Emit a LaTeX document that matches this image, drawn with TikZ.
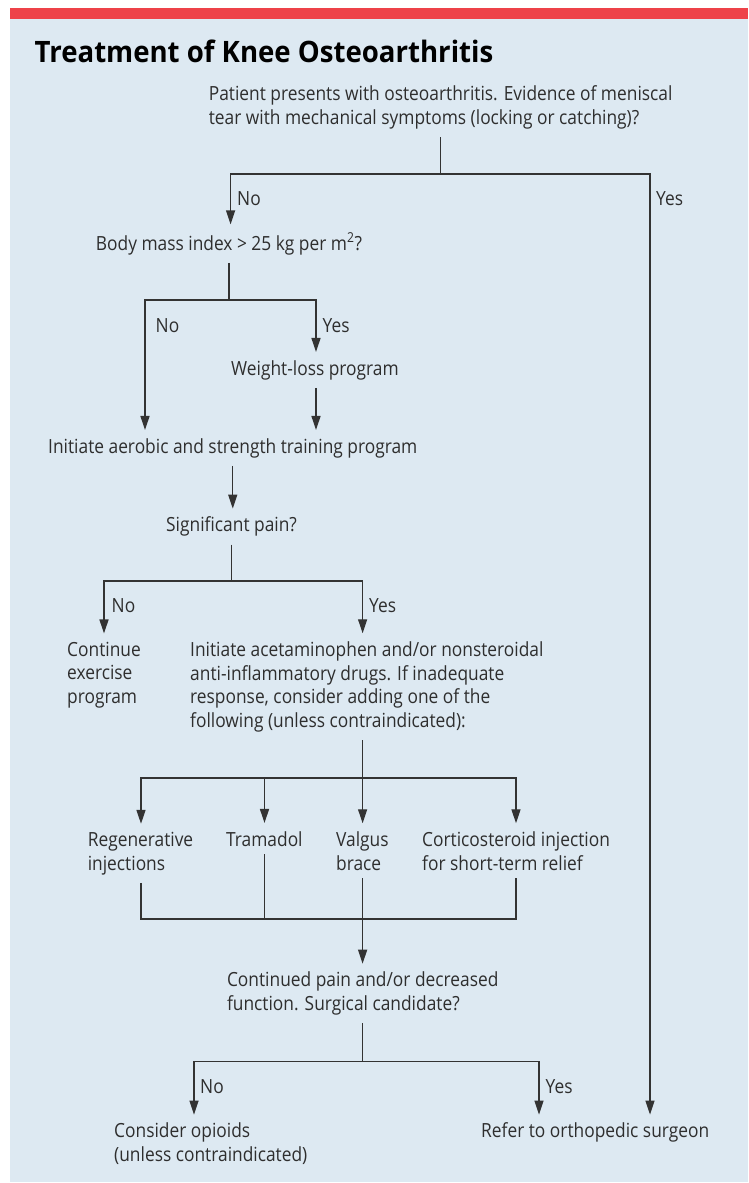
\documentclass[tikz,border=0pt]{standalone}
\usepackage{fontspec}
\setmainfont{Open Sans}[FakeStretch=0.89]
\newfontfamily\titlefont{Open Sans}[FakeStretch=0.935]
\usetikzlibrary{arrows.meta}
\definecolor{panelblue}{HTML}{DDE9F2}
\definecolor{barred}{HTML}{EE4249}
\definecolor{inkgray}{HTML}{2E2E2E}
\definecolor{linegray}{HTML}{333333}

\begin{document}
\begin{tikzpicture}[x=1pt,y=-1pt]
\tikzstyle{txt}=[inner xsep=0pt, inner ysep=8pt, anchor=base west, align=left, text=inkgray, font=\fontsize{19.5}{23.7}\selectfont]
\tikzstyle{lbl}=[inner sep=0pt, anchor=base west, text=inkgray, font=\fontsize{19.5}{23.7}\selectfont]
\tikzstyle{ln}=[draw=linegray, line width=1.3pt]
\tikzstyle{arr}=[ln, -{Triangle[length=14pt,width=9pt]}]

\useasboundingbox (0,0) rectangle (748,1183);
\fill[white] (0,0) rectangle (748,1183);
\fill[panelblue] (10,19) rectangle (748,1182);
\fill[barred] (10,8) rectangle (748,19);

\node[lbl, font=\titlefont\fontsize{29.5}{34}\selectfont\bfseries, text=black] (title) at (34.5,62) {Treatment of Knee Osteoarthritis};

\node[txt] (patient) at (208.6,124.4) {Patient presents with osteoarthritis. Evidence of meniscal\\tear with mechanical symptoms (locking or catching)?};
\node[txt] (bmi) at (95.7,250) {Body mass index > 25 kg per m\textsuperscript{2}?};
\node[txt] (wloss) at (231,375) {Weight-loss program};
\node[txt] (aerobic) at (48,453) {Initiate aerobic and strength training program};
\node[txt] (pain) at (166,531.7) {Significant pain?};
\node[txt] (cont) at (67,703.4) {Continue\\exercise\\program};
\node[txt] (nsaid) at (190,727.4) {Initiate acetaminophen and/or nonsteroidal\\anti-inflammatory drugs. If inadequate\\response, consider adding one of the\\following (unless contraindicated):};
\node[txt] (regen) at (87.6,870) {Regenerative\\injections};
\node[txt] (tram) at (226,846) {Tramadol};
\node[txt] (valgus) at (336,870) {Valgus\\brace};
\node[txt] (cortico) at (422,870) {Corticosteroid injection\\for short-term relief};
\node[txt] (surg) at (226.8,1010.4) {Continued pain and/or decreased\\function. Surgical candidate?};
\node[txt] (opioid) at (114,1161.4) {Consider opioids\\(unless contraindicated)};
\node[txt] (refer) at (481,1137.7) {Refer to orthopedic surgeon};

\node[lbl] (no1) at (237,205) {No};
\node[lbl] (yes1) at (656,205) {Yes};
\node[lbl] (no2) at (155.5,332) {No};
\node[lbl] (yes2) at (322.5,332) {Yes};
\node[lbl] (no3) at (111.5,612) {No};
\node[lbl] (yes3) at (369,612) {Yes};
\node[lbl] (no4) at (200,1093) {No};
\node[lbl] (yes4) at (545.5,1093) {Yes};

\coordinate (nL) at (230.6,174);
\coordinate (nR) at (650,174);
\coordinate (bL) at (145,300);
\coordinate (bR) at (316,300);
\coordinate (pL) at (104,581);
\coordinate (pR) at (362.6,581);
\coordinate (fL) at (141,778);
\coordinate (fM) at (264.5,778);
\coordinate (fR) at (516,778);
\coordinate (gL) at (141,919);
\coordinate (gR) at (516,919);
\coordinate (sL) at (194,1061.7);
\coordinate (sR) at (539,1061.7);

\draw[ln] (patient.south) -- (patient.south |- nL);
\draw[arr] (patient.south |- nL) -- (nL) -- (nL |- bmi.north);
\draw[arr] (patient.south |- nL) -- (nR) -- (nR |- refer.north);

\draw[ln] (bmi.south) -- (bmi.south |- bL);
\draw[arr] (bmi.south |- bL) -- (bL) -- (bL |- aerobic.north);
\draw[arr] (bmi.south |- bL) -- (bR) -- (bR |- wloss.north);
\draw[arr] (bR |- wloss.south) -- (bR |- aerobic.north);

\draw[arr] (aerobic.south) -- (aerobic.south |- pain.north);

\draw[ln] (pain.south) -- (pain.south |- pL);
\draw[arr] (pain.south |- pL) -- (pL) -- (pL |- cont.north);
\draw[arr] (pain.south |- pL) -- (pR) -- (pR |- nsaid.north);

\draw[ln] (pR |- nsaid.south) -- (pR |- fL);
\draw[{Triangle[length=14pt,width=9pt]}-{Triangle[length=14pt,width=9pt]}, ln] (fL |- regen.north) -- (fL) -- (fR) -- (fR |- cortico.north);
\draw[arr] (fM) -- (fM |- tram.north);
\draw[arr] (pR |- fL) -- (pR |- valgus.north);

\draw[ln] (fL |- regen.south) -- (gL) -- (gR) -- (fR |- cortico.south);
\draw[ln] (fM |- tram.south) -- (fM |- gL);
\draw[arr] (pR |- valgus.south) -- (pR |- surg.north);

\draw[ln] (surg.south) -- (surg.south |- sL);
\draw[arr] (surg.south |- sL) -- (sL) -- (sL |- opioid.north);
\draw[arr] (surg.south |- sL) -- (sR) -- (sR |- refer.north);
\end{tikzpicture}
\end{document}
